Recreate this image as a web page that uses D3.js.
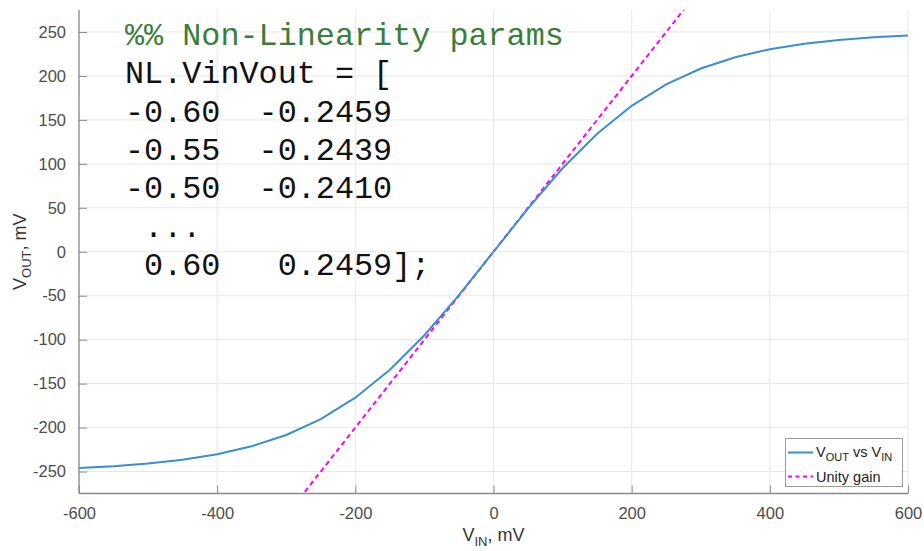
<!DOCTYPE html>
<html><head><meta charset="utf-8">
<script src="https://cdn.jsdelivr.net/npm/d3@7"></script>
<style>body{margin:0;background:#fff}svg{display:block}</style>
</head><body><svg id="c" width="924" height="551"></svg>
<script>
const vin = [-600,-550,-500,-450,-400,-350,-300,-250,-200,-150,-100,-50,0,50,100,150,200,250,300,350,400,450,500,550,600];
const vout = [-245.9,-243.9,-241.0,-236.7,-230.4,-221.3,-208.4,-190.4,-166.0,-134.3,-95.0,-49.3,0,49.3,95.0,134.3,166.0,190.4,208.4,221.3,230.4,236.7,241.0,243.9,245.9];
const unityX = [-600, 600];
const xTicks = [-600,-400,-200,0,200,400,600];
const yTicks = [-250,-200,-150,-100,-50,0,50,100,150,200,250];
const codeLines = ["%% Non-Linearity params","NL.VinVout = [","-0.60  -0.2459","-0.55  -0.2439","-0.50  -0.2410"," ..."," 0.60   0.2459];"];
const legendLabels = [["V","OUT"," vs V","IN"],["Unity gain"]];

const svg = d3.select("#c");
const L=79, R=908, T=10, B=493.5;
const x = d3.scaleLinear().domain([-600,600]).range([L,R]);
const y = d3.scaleLinear().domain([-275,275]).range([B,T]);
const font = "'Liberation Sans', Arial, Helvetica, sans-serif";
const fmt = d => String(d);

// grid
svg.append("g").selectAll("line").data(xTicks).join("line")
  .attr("x1",d=>x(d)).attr("x2",d=>x(d)).attr("y1",T).attr("y2",B)
  .attr("stroke","#e8e8e8").attr("stroke-width",1);
svg.append("g").selectAll("line").data(yTicks).join("line")
  .attr("x1",L).attr("x2",R).attr("y1",d=>y(d)).attr("y2",d=>y(d))
  .attr("stroke","#e8e8e8").attr("stroke-width",1);

// axes
const xa = d3.axisBottom(x).tickValues(xTicks).tickSizeInner(-8).tickSizeOuter(0).tickPadding(14).tickFormat(fmt);
const ya = d3.axisLeft(y).tickValues(yTicks).tickSizeInner(-8).tickSizeOuter(0).tickPadding(13).tickFormat(fmt);
const gx = svg.append("g").attr("transform",`translate(0,${B})`).call(xa);
const gy = svg.append("g").attr("transform",`translate(${L},0)`).call(ya);
[gx,gy].forEach(g=>{
  g.select(".domain").attr("stroke","#8a8a8a").attr("stroke-width",1.3);
  g.selectAll(".tick line").attr("stroke","#8a8a8a");
  g.selectAll(".tick text").attr("fill","#4d4d4d").style("font-family",font).style("font-size","16.5px");
});
gx.select(".domain").attr("d",`M${L},0H${R}`);
gy.select(".domain").attr("d",`M0,${T}V${B}`);
gx.selectAll(".tick text").attr("dy","0.71em");

// clip
svg.append("clipPath").attr("id","pc").append("rect").attr("x",L).attr("y",T).attr("width",R-L).attr("height",B-T);

// unity line
svg.append("path").attr("clip-path","url(#pc)")
  .attr("d", d3.line().x(d=>x(d)).y(d=>y(d))(unityX))
  .attr("fill","none").attr("stroke","#ff00ff").attr("stroke-width",2).attr("stroke-dasharray","5,3.5");

// data line
const pts = vin.map((v,i)=>[v,vout[i]]);
svg.append("path").attr("clip-path","url(#pc)")
  .attr("d", d3.line().x(d=>x(d[0])).y(d=>y(d[1]))(pts))
  .attr("fill","none").attr("stroke","#3a8fd2").attr("stroke-width",2);

// axis labels
const xl = svg.append("text").attr("x",x(0)).attr("y",541).attr("text-anchor","middle")
  .attr("fill","#333").style("font-family",font).style("font-size","18px");
xl.append("tspan").text("V");
xl.append("tspan").attr("dy",5).style("font-size","13px").text("IN");
xl.append("tspan").attr("dy",-5).text(", mV");
const yl = svg.append("text").attr("transform",`translate(26,${y(0)}) rotate(-90)`).attr("text-anchor","middle")
  .attr("fill","#333").style("font-family",font).style("font-size","18px");
yl.append("tspan").text("V");
yl.append("tspan").attr("dy",5).style("font-size","13px").text("OUT");
yl.append("tspan").attr("dy",-5).text(", mV");

// legend
const lg = svg.append("g");
lg.append("rect").attr("x",785.5).attr("y",438.5).attr("width",117).attr("height",48)
  .attr("fill","#fff").attr("stroke","#9a9a9a").attr("stroke-width",1);
lg.append("line").attr("x1",788).attr("x2",813).attr("y1",452.5).attr("y2",452.5).attr("stroke","#3a8fd2").attr("stroke-width",2);
lg.append("line").attr("x1",788).attr("x2",813).attr("y1",476.5).attr("y2",476.5).attr("stroke","#ff00ff").attr("stroke-width",2).attr("stroke-dasharray","4,3.5");
const t1 = lg.append("text").attr("x",816).attr("y",457).attr("fill","#222").style("font-family",font).style("font-size","14.5px");
t1.append("tspan").text(legendLabels[0][0]);
t1.append("tspan").attr("dy",4).style("font-size","11px").text(legendLabels[0][1]);
t1.append("tspan").attr("dy",-4).text(legendLabels[0][2]);
t1.append("tspan").attr("dy",4).style("font-size","11px").text(legendLabels[0][3]);
lg.append("text").attr("x",816).attr("y",482).attr("fill","#222").style("font-family",font).style("font-size","14.5px").text(legendLabels[1][0]);

// code overlay
svg.append("g").selectAll("text").data(codeLines).join("text")
  .attr("x",125).attr("y",(d,i)=>45+i*38.33)
  .attr("fill",(d,i)=>i===0?"#3c7d3c":"#111")
  .style("font-family","'Liberation Mono','Courier New',monospace").style("font-size","31.8px")
  .style("white-space","pre").attr("xml:space","preserve")
  .text(d=>d);
</script></body></html>
